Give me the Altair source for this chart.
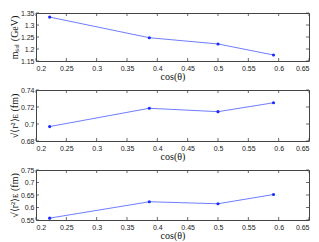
import altair as alt
import pandas as pd

# ---- data ----
cos_theta = [0.2225, 0.3868, 0.5, 0.5915]
m_sol = [1.333, 1.247, 1.221, 1.175]
r_e_top = [0.697, 0.7185, 0.7145, 0.725]
r_e_bottom = [0.5575, 0.623, 0.615, 0.652]

x_ticks = [0.2, 0.25, 0.3, 0.35, 0.4, 0.45, 0.5, 0.55, 0.6, 0.65]
y1_ticks = [1.15, 1.2, 1.25, 1.3, 1.35]
y2_ticks = [0.68, 0.7, 0.72, 0.74]
y3_ticks = [0.55, 0.6, 0.65, 0.7, 0.75]

x_title = "cos(θ)"
y1_title = "mₛₒₗ (GeV)"
y2_title = "√⟨r²⟩ᴇ (fm)"
y3_title = "√⟨r²⟩ᴇ (fm)"

LINE = "#4a5cff"
MARK = "#1a2bff"
FRAME = "#444444"
SERIF = "Liberation Serif"
SANS = "Liberation Sans"
W = 273
TICK = 3


def panel(vals, yticks, ytitle, h):
    df = pd.DataFrame({"c": cos_theta, "v": vals})
    xt = pd.DataFrame({"c": x_ticks})
    yt = pd.DataFrame({"v": yticks})
    xs = alt.Scale(domain=[x_ticks[0], x_ticks[-1]], nice=False, zero=False)
    ys = alt.Scale(domain=[yticks[0], yticks[-1]], nice=False, zero=False)
    xa = alt.Axis(
        values=x_ticks, format="~g", title=x_title, ticks=False, domain=False,
        grid=False, labelPadding=3, titlePadding=0,
        titleFont=SERIF, titleFontSize=10, titleFontWeight="normal")
    ya = alt.Axis(
        values=yticks, format="~g", title=ytitle, ticks=False, domain=False,
        grid=False, labelPadding=2, titlePadding=1,
        titleFont=SERIF, titleFontSize=10, titleFontWeight="normal")
    X = alt.X("c:Q", scale=xs, axis=xa)
    Y = alt.Y("v:Q", scale=ys, axis=ya)

    line = alt.Chart(df).mark_line(color=LINE, strokeWidth=0.8).encode(x=X, y=Y)
    pts = alt.Chart(df).mark_point(filled=True, size=10, color=MARK, opacity=1).encode(x=X, y=Y)

    xb = alt.Chart(xt).mark_rule(color=FRAME, strokeWidth=0.8).encode(
        x=X, y=alt.value(h - TICK), y2=alt.value(h))
    xtp = alt.Chart(xt).mark_rule(color=FRAME, strokeWidth=0.8).encode(
        x=X, y=alt.value(0), y2=alt.value(TICK))
    yl = alt.Chart(yt).mark_rule(color=FRAME, strokeWidth=0.8).encode(
        y=Y, x=alt.value(0), x2=alt.value(TICK))
    yr = alt.Chart(yt).mark_rule(color=FRAME, strokeWidth=0.8).encode(
        y=Y, x=alt.value(W - TICK), x2=alt.value(W))

    return alt.layer(line, pts, xb, xtp, yl, yr).properties(width=W, height=h)


chart = (
    alt.vconcat(
        panel(m_sol, y1_ticks, y1_title, 48),
        panel(r_e_top, y2_ticks, y2_title, 51),
        panel(r_e_bottom, y3_ticks, y3_title, 50),
        spacing=3,
    )
    .properties(padding={"left": 0, "top": 0, "right": 0, "bottom": 0})
    .configure_view(stroke=FRAME, strokeWidth=1)
    .configure_axis(
        labelFont=SANS, labelFontSize=7, labelColor="#222222",
        titleColor="#111111",
    )
)

chart.save("out.html", embed_options={"renderer": "svg", "actions": False})
